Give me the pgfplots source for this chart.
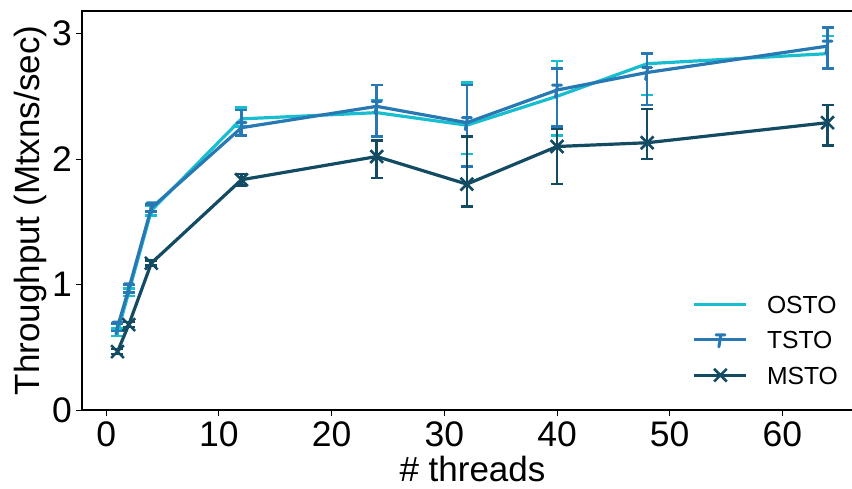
\documentclass[border=0pt]{standalone}
\usepackage{fontspec}
\setmainfont{Liberation Sans}
\usepackage{pgfplots}
\pgfplotsset{compat=1.18}
\usepackage{pgfplotstable}
\definecolor{costo}{HTML}{17BECF}
\definecolor{ctsto}{HTML}{2878B4}
\definecolor{cmsto}{HTML}{134B63}

\pgfdeclareplotmark{tee}{%
  \pgfsetroundcap
  \pgfpathmoveto{\pgfqpoint{-4.5bp}{5bp}}\pgfpathlineto{\pgfqpoint{4.5bp}{5bp}}%
  \pgfpathmoveto{\pgfqpoint{0.5bp}{5bp}}\pgfpathlineto{\pgfqpoint{-1.5bp}{-7bp}}%
  \pgfusepathqstroke}

\pgfplotstableread{
x y ep em
1 0.62 0.03 0.03
2 0.94 0.03 0.03
4 1.59 0.04 0.04
12 2.32 0.09 0.06
24 2.37 0.10 0.19
32 2.27 0.34 0.23
40 2.50 0.28 0.31
48 2.76 0.08 0.25
64 2.84 0.14 0.12
}\osto
\pgfplotstableread{
x y ep em
1 0.66 0.03 0.03
2 0.965 0.03 0.03
4 1.61 0.03 0.03
12 2.25 0.14 0.06
24 2.42 0.17 0.24
32 2.29 0.30 0.35
40 2.55 0.17 0.29
48 2.69 0.15 0.26
64 2.90 0.15 0.18
}\tsto
\pgfplotstableread{
x y ep em
1 0.465 0.02 0.02
2 0.68 0.02 0.02
4 1.17 0.02 0.02
12 1.835 0.045 0.045
24 2.02 0.13 0.17
32 1.80 0.38 0.18
40 2.10 0.14 0.30
48 2.13 0.27 0.13
64 2.29 0.14 0.18
}\msto

\begin{document}
\begin{tikzpicture}
\path[use as bounding box] (-82bp,-79bp) rectangle (770bp,410bp);
\clip (-82bp,-79bp) rectangle (770bp,410bp);
\begin{axis}[
  scale only axis,
  width=781bp, height=399bp,
  xmin=-2.15, xmax=67.15, ymin=0, ymax=3.18,
  xtick={0,10,...,60}, ytick={0,1,2,3},
  xtick pos=bottom, ytick pos=left,
  tick align=outside,
  major tick length=6bp,
  tick style={black, line width=1bp},
  axis line style={black, line width=1.2bp},
  /pgf/number format/assume math mode=true,
  ticklabel style={font=\fontsize{35.5bp}{40bp}\selectfont},
  xticklabel style={inner sep=0pt, anchor=north, yshift=-6bp},
  yticklabel style={inner sep=0pt, anchor=east, xshift=-4bp},
  xlabel={\# threads},
  ylabel={Throughput (Mtxns/sec)},
  label style={font=\fontsize{35bp}{40bp}\selectfont},
  xlabel style={at={(axis description cs:0.5,-0.178)}, anchor=base, inner sep=0pt},
  ylabel style={at={(axis description cs:-0.066,0.5)}, anchor=center, inner sep=0pt},
  legend style={draw=none, fill=none, at={(axis description cs:0.778,0.292)}, anchor=north west,
    font=\fontsize{24.7bp}{28bp}\selectfont, row sep=17.5bp,
    nodes={inner sep=0pt, text height=17.8bp, text depth=0bp},
    /tikz/every odd column/.style={column sep=19bp}},
  legend cell align=left,
  legend image code/.code={\draw[mark repeat=2,mark phase=2] plot coordinates {(0bp,0bp) (26bp,0bp) (52bp,0bp)};},
  error bars/y dir=both, error bars/y explicit,
  error bars/error mark options={rotate=90, mark size=6bp, line width=2.6bp},
  error bars/error bar style={line width=2.6bp},
]
\addplot[costo, line width=3.2bp, mark=none] table[x=x, y=y, y error plus=ep, y error minus=em]{\osto};
\addlegendentry{OSTO}
\addplot[ctsto, line width=3.2bp, mark=tee, mark size=6bp, mark options={solid, line width=3bp}] table[x=x, y=y, y error plus=ep, y error minus=em]{\tsto};
\addlegendentry{TSTO}
\addplot[cmsto, line width=3.2bp, mark=x, mark size=9bp, mark options={solid, line width=2.6bp}] table[x=x, y=y, y error plus=ep, y error minus=em]{\msto};
\addlegendentry{MSTO}
\end{axis}
\end{tikzpicture}
\end{document}
